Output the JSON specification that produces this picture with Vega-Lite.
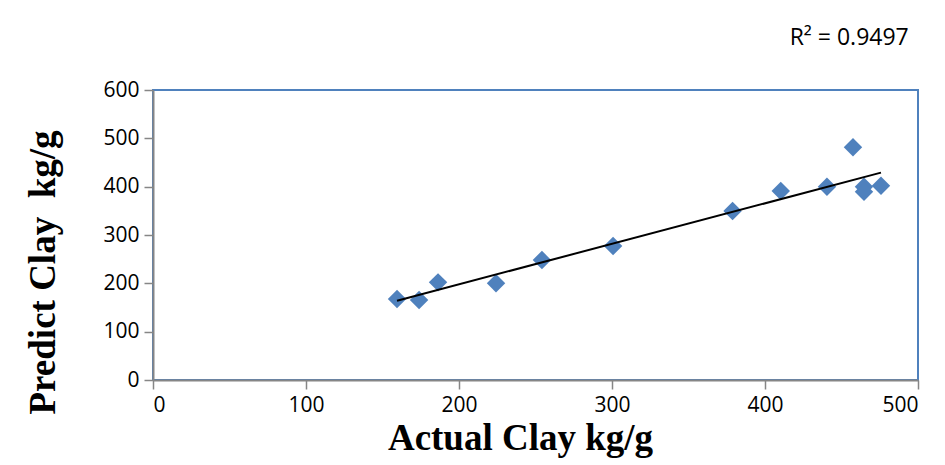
{
  "$schema": "https://vega.github.io/schema/vega-lite/v6.json",
  "width": 765,
  "height": 290,
  "autosize": {"type": "none"},
  "padding": {"left": 153, "top": 90, "right": 27, "bottom": 85},
  "background": "white",
  "title": {
    "text": "R² = 0.9497",
    "anchor": "end",
    "offset": 29,
    "dx": -10,
    "font": "Open Sans",
    "fontSize": 23,
    "fontWeight": "normal",
    "color": "#000000"
  },
  "data": {
    "values": [
      {"actual": 159.5, "predict": 167.6},
      {"actual": 173.9, "predict": 165.5},
      {"actual": 186.3, "predict": 202},
      {"actual": 224.2, "predict": 200},
      {"actual": 254.2, "predict": 248.3},
      {"actual": 300.7, "predict": 277.2},
      {"actual": 378.8, "predict": 349.7},
      {"actual": 410.3, "predict": 391},
      {"actual": 440.5, "predict": 400},
      {"actual": 457.5, "predict": 481.4},
      {"actual": 464.7, "predict": 400},
      {"actual": 464.7, "predict": 389.6},
      {"actual": 475.8, "predict": 402}
    ]
  },
  "layer": [
    {
      "mark": {"type": "point", "shape": "diamond", "filled": true, "size": 340, "color": "#4f81bd", "opacity": 1},
      "encoding": {
        "x": {"field": "actual", "type": "quantitative"},
        "y": {"field": "predict", "type": "quantitative"}
      }
    },
    {
      "transform": [{"regression": "predict", "on": "actual"}],
      "mark": {"type": "line", "color": "#000000", "strokeWidth": 2},
      "encoding": {
        "x": {"field": "actual", "type": "quantitative"},
        "y": {"field": "predict", "type": "quantitative"}
      }
    }
  ],
  "encoding": {
    "x": {
      "field": "actual",
      "type": "quantitative",
      "scale": {"domain": [0, 500], "nice": false, "zero": true},
      "axis": {
        "values": [0, 100, 200, 300, 400, 500],
        "title": "Actual Clay kg/g",
        "titleFont": "Liberation Serif",
        "titleFontSize": 37,
        "titleFontWeight": "bold",
        "titleColor": "#000000",
        "titlePadding": 5,
        "titleX": 367
      }
    },
    "y": {
      "field": "predict",
      "type": "quantitative",
      "scale": {"domain": [0, 600], "nice": false},
      "axis": {
        "values": [0, 100, 200, 300, 400, 500, 600],
        "title": "Predict Clay\u00a0 kg/g",
        "titleFont": "Liberation Serif",
        "titleFontSize": 37,
        "titleFontWeight": "bold",
        "titleColor": "#000000",
        "titlePadding": 40,
        "titleY": 182
      }
    }
  },
  "config": {
    "view": {"stroke": "#4f81bd", "strokeWidth": 2},
    "axis": {
      "grid": false,
      "domainColor": "#868686",
      "domainWidth": 2,
      "tickColor": "#868686",
      "tickWidth": 1.5,
      "tickSize": 9,
      "labelFont": "Open Sans",
      "labelFontSize": 21,
      "labelColor": "#000000",
      "labelPadding": 5
    }
  }
}
